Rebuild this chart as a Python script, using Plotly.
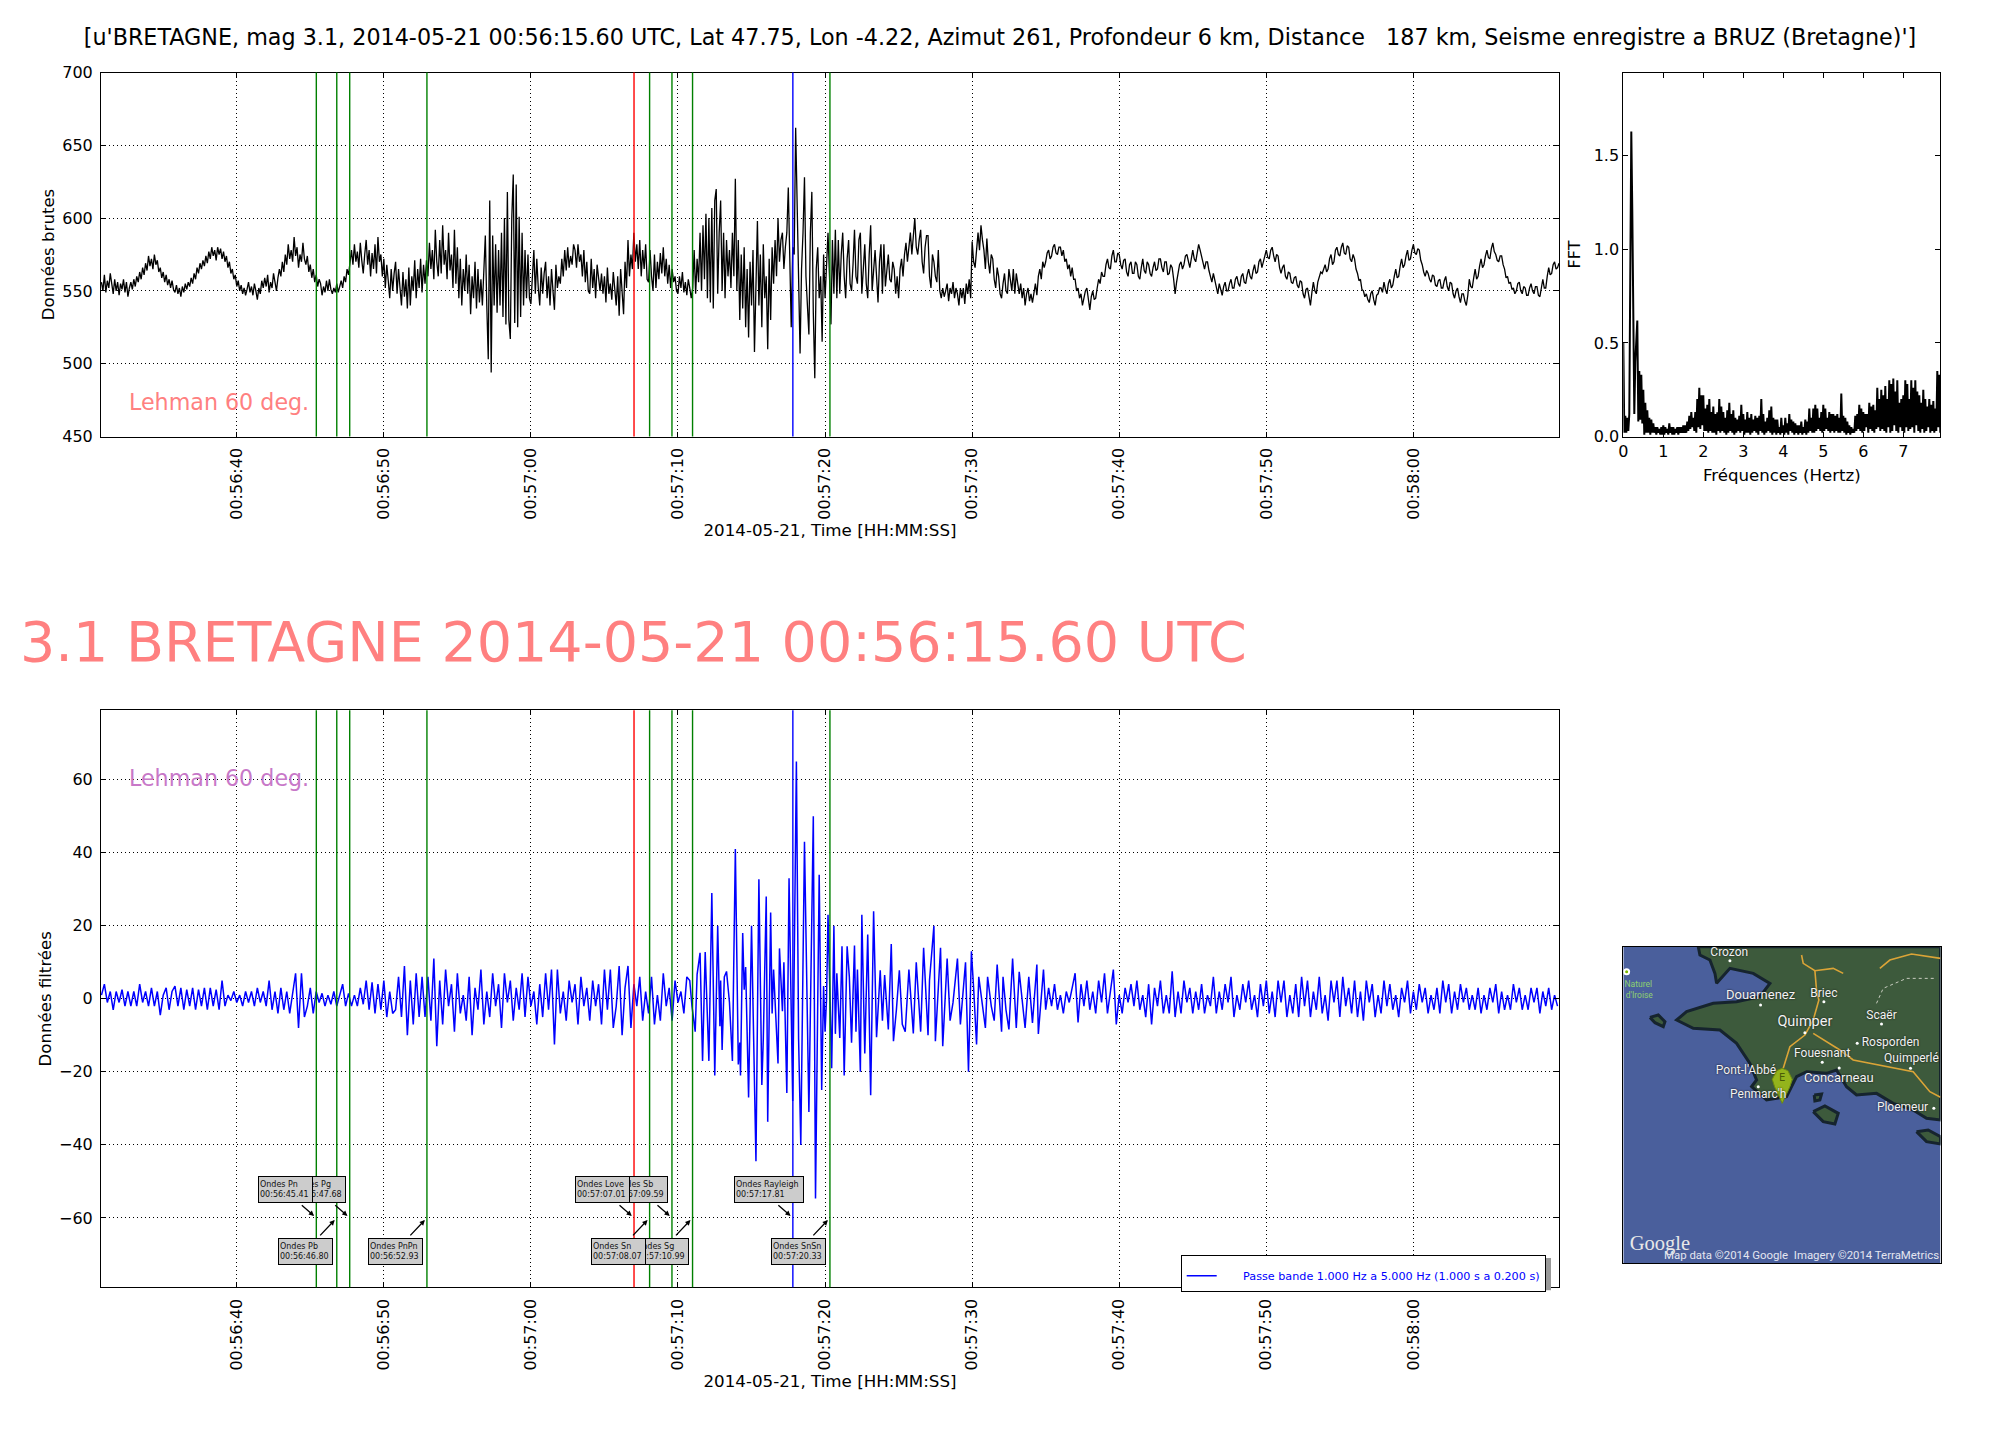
import numpy as np
import pandas as pd
import plotly.graph_objs as go

titre = "[u'BRETAGNE, mag 3.1, 2014-05-21 00:56:15.60 UTC, Lat 47.75, Lon -4.22, Azimut 261, Profondeur 6 km, Distance \u00a0 187 km, Seisme enregistre a BRUZ (Bretagne)']"
grand_titre = "3.1 BRETAGNE 2014-05-21 00:56:15.60 UTC"
jour = '2014-05-21'
time_ticks = ['00:56:40', '00:56:50', '00:57:00', '00:57:10', '00:57:20', '00:57:30', '00:57:40', '00:57:50', '00:58:00']

# ondes : nom, heure, couleur
onde_noms = ['Pn', 'Pb', 'Pg', 'PnPn', 'Love', 'Sn', 'Sb', 'Sg', 'Rayleigh', 'SnSn']
onde_heures = ['00:56:45.41', '00:56:46.80', '00:56:47.68', '00:56:52.93', '00:57:07.01',
               '00:57:08.07', '00:57:09.59', '00:57:10.99', '00:57:17.81', '00:57:20.33']
onde_couleurs = ['#008000', '#008000', '#008000', '#008000', '#ff0000',
                 '#008000', '#008000', '#008000', '#0000ff', '#008000']

# donnees brutes, une ligne par seconde (secondes apres 00:56:00)
raw_a = [556, 550, 561, 549, 557, 552, 562, 553, 548, 558,
         550, 556, 547, 555, 551, 558, 549, 556, 546, 552,
         556, 551, 558, 553, 560, 556, 563, 558, 566, 561,
         569, 564, 574, 567, 572, 565, 575, 568, 571, 563,
         566, 559, 563, 556, 561, 554, 558, 552, 557, 551,
         549, 554, 548, 552, 546, 553, 549, 555, 551, 556,
         553, 559, 555, 562, 558, 566, 562, 569, 565, 571,
         567, 574, 569, 577, 572, 580, 574, 578, 571, 580,
         575, 579, 572, 577, 570, 574, 566, 570, 562, 565,
         558, 561, 553, 557, 550, 554, 548, 552, 547, 551,
         556, 549, 553, 547, 555, 550, 544, 552, 548, 557,
         552, 559, 553, 561, 549, 556, 552, 562, 555, 550,
         559, 565, 560, 570, 563, 575, 568, 582, 572, 578,
         570, 587, 574, 580, 566, 575, 570, 583, 572, 568,
         574, 563, 568, 559, 565, 556, 561, 553, 558, 555,
         547, 553, 549, 557, 550, 558, 551, 548, 552, 549,
         555, 549, 553, 557, 552, 560, 556, 565, 561, 570,
         578, 568, 582, 570, 577, 566, 583, 571, 562, 575,
         585, 568, 578, 560, 576, 565, 582, 562, 587, 570,
         575, 560, 572, 552, 568, 557, 545, 565, 550, 562,
         570, 548, 565, 552, 540, 563, 546, 558, 538, 566,
         540, 560, 550, 571, 545, 565, 552, 572, 549, 568,
         555, 571, 560, 583, 565, 578, 558, 592, 570, 560,
         585, 562, 595, 568, 578, 558, 590, 564, 575, 552,
         592, 555, 580, 545, 572, 540, 565, 550, 575, 548,
         568, 534, 560, 545, 570, 538, 565, 542, 558, 540]
raw_b = [560, 588, 540, 503, 612, 494, 588, 540, 582, 535,
         578, 540, 590, 532, 600, 527, 618, 530, 517, 600,
         630, 528, 623, 525, 601, 532, 590, 540, 578, 545,
         575, 545]
raw_c = [541, 565, 578, 548, 572, 552, 540, 566, 548, 562,
         570, 545, 560, 540, 565, 550, 537, 568, 552, 560,
         555, 572, 560, 578, 564, 580, 566, 574, 568, 582,
         578, 566, 582, 570, 575, 560, 578, 556, 570, 550,
         548, 572, 552, 565, 545, 568, 556, 550, 562, 548,
         560, 542, 566, 548, 555, 544, 563, 552, 540, 560,
         533, 565, 548, 534, 570, 552, 585, 560, 575, 565,
         590, 570, 582, 565, 585, 560, 578, 565, 582, 558,
         556, 578, 560, 550, 575, 552, 570, 558, 576, 562,
         580, 560, 572, 555, 568, 552, 565, 556, 560, 550,
         548, 560, 552, 563, 549, 556, 547, 558, 552, 545]
raw_d = [552, 578, 548, 572, 556, 590, 550, 595, 558, 603,
         545, 600, 542, 607, 538, 612, 620, 548, 590, 612,
         550, 590, 545, 585, 560, 578, 552, 590, 560, 627,
         550, 585, 530, 575, 538, 580, 525, 565, 518, 570,
         540, 578, 508, 565, 598, 540, 575, 525, 582, 545,
         560, 510, 572, 530, 580, 555, 585, 560, 600, 570,
         585, 590, 565, 580, 590, 621, 560, 525, 580, 575,
         662, 600, 550, 507, 565, 590, 628, 560, 540, 520,
         590, 618, 535, 490, 565, 580, 545, 560, 515, 575,
         545, 570, 590, 560, 527, 585, 548, 592, 545, 585]
raw_e = [548, 575, 590, 560, 545, 572, 585, 555, 550, 568,
         592, 560, 555, 585, 590, 548, 565, 582, 555, 545,
         575, 595, 550, 565, 578, 560, 542, 570, 582, 548,
         582, 553, 565, 575, 558, 556, 570, 565, 548, 560,
         545, 565, 572, 560, 575, 583, 570, 578, 590, 575,
         590, 600, 580, 575, 585, 592, 570, 562, 580, 588,
         588, 560, 552, 575, 570, 560, 556, 578, 550, 545,
         552, 546, 550, 555, 543, 552, 548, 556, 545, 552,
         548, 540, 552, 545, 552, 541, 555, 548, 558, 545,
         584, 570, 566, 582, 590, 578, 595, 585, 578, 565,
         586, 570, 562, 575, 572, 558, 552, 566, 560, 548,
         545, 555, 562, 550, 548, 565, 555, 550, 565, 548,
         562, 555, 548, 555, 545, 552, 540, 548, 552, 543,
         548, 542, 550, 555, 547, 560, 565, 558, 570, 566,
         570, 576, 578, 572, 574, 580, 582, 576, 575, 580,
         580, 574, 578, 570, 572, 565, 568, 560, 566, 558,
         558, 550, 552, 545, 548, 540, 545, 550, 552, 543,
         537, 546, 550, 544, 545, 552, 558, 555, 563, 560,
         560, 568, 572, 566, 565, 574, 578, 570, 570, 576,
         575, 568, 565, 571, 572, 563, 560, 568, 570, 562,
         562, 570, 568, 560, 558, 566, 572, 564, 562, 570,
         568, 562, 560, 566, 570, 564, 565, 572, 572, 566,
         563, 570, 570, 561, 562, 568, 566, 558, 548, 556,
         562, 568, 570, 565, 568, 574, 575, 570, 566, 572,
         578, 572, 570, 576, 582, 578, 574, 568, 565, 570,
         570, 564, 560, 556, 562, 558, 552, 548, 555, 551,
         547, 553, 556, 550, 550, 555, 558, 552, 552, 558,
         560, 555, 553, 560, 562, 556, 555, 561, 565, 560,
         558, 564, 568, 562, 563, 570, 572, 566, 570, 575,
         578, 573, 572, 578, 580, 574, 570, 575, 574, 566,
         562, 566, 568, 560, 558, 563, 562, 556, 555, 559,
         560, 554, 552, 557, 556, 548, 545, 551, 552, 546,
         540, 549, 556, 550, 548, 556, 560, 563, 562, 566,
         568, 563, 565, 572, 575, 568, 570, 578, 580, 575,
         574, 580, 583, 576, 575, 581, 580, 572, 570, 575,
         572, 565, 562, 557, 558, 551, 550, 546, 548, 544,
         542, 548, 550, 544, 540, 547, 548, 552, 552, 549,
         556, 551, 548, 555, 558, 552, 554, 560, 565, 559,
         560, 567, 572, 566, 568, 574, 578, 571, 572, 578,
         582, 576, 575, 579, 578, 571, 568, 563, 560, 564,
         562, 558, 556, 561, 560, 554, 553, 557, 558, 552,
         552, 557, 560, 553, 550, 556, 555, 548, 545, 550,
         552, 546, 542, 548, 548, 543, 540, 547, 558, 553,
         552, 559, 565, 558, 560, 567, 572, 566, 568, 574,
         578, 573, 572, 579, 583, 577, 575, 571, 570, 574,
         574, 568, 565, 559, 560, 555, 556, 551, 552, 548,
         550, 555, 556, 550, 548, 553, 552, 547, 547, 552,
         555, 550, 548, 553, 553, 547, 546, 552, 558, 552,
         552, 560, 566, 561, 562, 568, 570, 565, 566, 569]

# donnees filtrees
filt_a = [1, 4, -1, 2, -3,
          2, -1, 2.5, -2, 2,
          -2, 2, -2, 4, -1,
          2, -2, 3, -2, 2,
          -4.5, 1, 3, -3, 2,
          3.5, -2, 3, -3, 2.5,
          -2, 3, -3, 2.5, -2,
          3, -3, 3, -2, 2.5,
          -3, 5, -2, 1, -0.5,
          2, -1, 1, -2, 2,
          -1, 2, -2, 3, -1,
          2, -2, 5, -3, 2,
          -4, 3, -3, 2, -4,
          2, 7, -8, 7, -5,
          -2, 3, -4, 2, -1,
          1.5, -2, 1, -1.5, 2,
          -2, 1, 4, -2, 1.5,
          -2, 1, -2, 3, -1.5,
          5, -3, 4.5, -4, 4,
          -3, 5, -5, 2, -4,
          -3, 6, -5, 9, -10,
          5, -7, 7, -5, 6,
          -5, 6, -6, 11, -13,
          5, -7, 8, -2, 4,
          -9, 7, -4, 1, -6,
          6, -10, 3, -3, 8,
          -7, 2, -5, 7, -2,
          4, -8, 7, -1, 5,
          -6, 3, -3, 7, -5,
          6, -2, 2, -7, 4,
          -5, 7, -3, 8, -12.5,
          8, -4, 2, -6, 5,
          -1, 4, -7, 6, -2,
          3, -6, 5, -2, 4,
          -7, 8, -3, 8, -8,
          -2, 9, -10, 3, 9,
          -8, 4, -2, 6, -6,
          2, -4, 6, -7, 1,
          -6, 7, -2, 3, -6,
          5, -1, 2, -4, 6]
filt_burst_t = [70.8, 70.95, 71.17, 71.3, 71.5, 71.67, 71.85, 72.1, 72.3, 72.5, 72.7, 72.85, 72.9, 73.0, 73.15,
                73.3, 73.4, 73.5, 73.7, 73.9, 74.1, 74.2, 74.25, 74.4, 74.5, 74.6, 74.8, 75.0, 75.3, 75.5,
                75.7, 75.8, 76.0, 76.1, 76.3, 76.4, 76.5, 76.8, 76.9, 77.1, 77.2, 77.4, 77.55, 77.8, 78.05,
                78.2, 78.35, 78.6, 78.9, 79.2, 79.35, 79.5, 79.6, 79.77, 79.9, 80.0, 80.1, 80.2, 80.45, 80.6,
                80.7, 80.8, 81.0, 81.15, 81.3, 81.5, 81.65, 81.8, 82.0, 82.1, 82.2, 82.4, 82.5, 82.7, 82.9,
                83.1, 83.3, 83.5, 83.75, 83.9, 84.05, 84.3, 84.5, 84.65, 84.85, 85.05, 85.25, 85.45, 85.7, 86.0,
                86.2, 86.5, 86.7, 87.0, 87.1, 87.4, 87.5, 87.85, 88.0, 88.3, 88.5, 88.7, 89.0, 89.2, 89.55,
                89.75, 89.95, 90.1, 90.3, 90.45, 90.7, 90.9, 91.05, 91.3, 91.5, 91.7, 92.0, 92.1, 92.3, 92.5,
                92.75, 93.0, 93.2, 93.6, 93.85, 94.1, 94.4, 94.5, 94.85, 95.0]
filt_burst = [5, -2, -9, 6.7, 12.6, -17, 12.8, -17, 29, -21, 20, -7.5, 5, -14, 6,
              7.5, 3, -1, -17, 41, -18, -12, -21, 18, 2.5, 8.7, -27, 20, -44.5, 32.7,
              -23.6, -11, 28, -33.7, 23.6, -4, 8, -17.7, 13.8, -3.4, 10, -25.8, 33, -28, 65,
              -11, -40, 43, -31, 50, -54.7, 11, 34, -25, 3.5, -9, 0, 23, -19, 20,
              -9.6, 7, -10.7, 14.4, -21, 14.4, 6, -12, 14.6, -9, 8, -20, 23, -15, 17.6,
              -26.4, 24, -10.5, 7.8, -6, 6.5, -8.4, 15, -11.6, -3, 7.8, -7, -9, 8, -9.5,
              10, -9, 14, -10, 5, 20, -11.6, 14, -13, 11, -6, -1, 11, -7, 10,
              -20, 13, 3, -12.5, 6, -2, -8, 6, -2, -6, 9.4, -9, 6, -3, -8.4,
              11, -8, 7.4, -8, 6, -6.6, 9.4, -9.6, 8, -3]
filt_c = [3, -2, 4, -3, 1,
          -4, 2, -1, 3, 7,
          -6.5, 4, -2, 5, -3,
          2, -4, 5, -1, 7,
          -4, 2, 8, -7, 1,
          -4, 3, -1, 4, -2,
          5, -3, 1, -5, 4,
          -7, 3, -2, 5, -4,
          1, -4, 7.5, -5, 2,
          -4, 5, -1, 3, -4,
          2, -3, 4, -4, 1,
          -2, 6, -4, 2, -3,
          4, -1, 6, -5, 1,
          -3, 4, -1, 5, -3,
          1, -5, 4, -2, 5,
          -4, 2, -5, 5, -1,
          5, -5, 1, -4, 4,
          -5, 6, -2, 5, -5,
          2, -3, 6, -4, 1,
          -6, 5, -1, 5, -5,
          6, -2, 3, -4, 5,
          -5, 2, -6, 5, -1,
          4, -5, 1, -4, 5,
          -2, 4, -3, 1, -5,
          3, -1, 5, -4, 2,
          -3, 4, -1, 3, -4,
          1, -3, 3, -4, 5,
          -1, 4, -4, 2, -3,
          4, -1, 3, -3, 1,
          -3, 3, -4, 1, -3,
          3, -1, 4, -4, 2,
          -3, 1, -3, 4, -1,
          3, -3, 1, -3, 3,
          -1, 3, -4, 2, -2,
          3, -3, 1, -2]

# spectre, 0.025 Hz entre deux valeurs
fft_pas = 0.025
fft_values = [.5, .02, .11, .02, .1, .03, .12, .68, 1.63, 1.2,
              .75, .12, .4, .52, .62, .08, .35, .09, .33, .07,
              .25, .01, .18, .02, .14, .02, .1, .01, .09, .02,
              .07, .02, .05, .01, .05, .02, .04, .01, .05, .01,
              .06, .01, .05, .02, .04, .01, .07, .02, .05, .01,
              .05, .01, .04, .02, .05, .01, .05, .02, .05, .02,
              .06, .02, .06, .02, .08, .03, .11, .04, .13, .05,
              .1, .03, .13, .02, .2, .05, .26, .04, .22, .06,
              .22, .03, .15, .03, .17, .02, .2, .03, .13, .02,
              .16, .02, .12, .01, .13, .03, .2, .02, .16, .03,
              .13, .02, .1, .01, .14, .02, .18, .03, .12, .02,
              .14, .01, .1, .02, .09, .03, .11, .02, .17, .03,
              .12, .01, .09, .02, .13, .02, .1, .01, .12, .02,
              .09, .03, .11, .02, .1, .01, .11, .03, .2, .02,
              .12, .01, .08, .02, .1, .03, .14, .02, .16, .01,
              .1, .02, .09, .01, .09, .02, .05, .01, .1, .02,
              .06, .01, .1, .02, .07, .01, .12, .03, .09, .02,
              .08, .01, .07, .02, .06, .01, .06, .02, .08, .01,
              .05, .02, .09, .01, .08, .02, .15, .03, .1, .02,
              .15, .02, .17, .03, .15, .04, .1, .03, .13, .02,
              .17, .03, .15, .04, .1, .03, .13, .02, .12, .03,
              .12, .02, .11, .03, .12, .02, .1, .02, .23, .03,
              .11, .02, .1, .01, .08, .02, .06, .01, .05, .02,
              .04, .02, .11, .03, .12, .04, .17, .03, .15, .02,
              .13, .03, .12, .05, .12, .02, .18, .04, .16, .03,
              .17, .02, .14, .04, .26, .05, .2, .03, .25, .04,
              .22, .03, .27, .02, .2, .05, .3, .02, .28, .03,
              .31, .06, .24, .03, .3, .02, .18, .05, .2, .03,
              .22, .02, .3, .05, .28, .03, .2, .04, .3, .05,
              .26, .02, .3, .06, .24, .03, .22, .02, .18, .04,
              .25, .02, .2, .03, .16, .05, .2, .02, .17, .03,
              .19, .02, .15, .03, .35, .05, .33, .02]

# carte, en pixels de la vignette
terre_x = [235, 240, 270, 285, 290, 330, 400, 450, 420, 350, 280, 200, 170, 220, 300, 350, 390, 410, 395, 440, 500,
           530, 560, 620, 650, 680, 710, 770, 820, 880, 920, 962, 962, 235]
terre_y = [20, 45, 60, 100, 130, 85, 100, 130, 170, 185, 190, 215, 240, 265, 270, 310, 370, 420, 440, 480, 470,
           410, 395, 400, 390, 440, 465, 460, 490, 510, 535, 540, 20, 20]
ile1_x = [90, 115, 135, 130, 105, 90]
ile1_y = [232, 225, 245, 260, 248, 232]
ile2_x = [580, 615, 655, 645, 610, 580]
ile2_y = [515, 498, 520, 552, 545, 515]
ile3_x = [890, 925, 962, 962, 920, 890]
ile3_y = [575, 570, 590, 612, 605, 575]
ile4_x = [583, 605, 600, 585, 583]
ile4_y = [465, 462, 480, 483, 465]
route1_x = [545, 550, 585, 640, 670]
route1_y = [45, 70, 92, 85, 100]
route2_x = [585, 590, 597, 580, 555, 510, 490]
route2_y = [92, 150, 180, 240, 285, 320, 385]
route3_x = [580, 660, 700, 780, 880, 930, 962]
route3_y = [280, 330, 360, 375, 395, 455, 472]
route4_x = [780, 810, 875, 962]
route4_y = [85, 60, 42, 55]
piste_x = [770, 790, 860, 950]
piste_y = [190, 145, 115, 115]
villes = ['Crozon', 'Douarnenez', 'Briec', 'Quimper', 'Scaër', 'Rosporden', 'Fouesnant', 'Quimperlé', 'Concarneau',
          "Pont-l'Abbé", "Penmarc'h", 'Ploemeur']
villes_x = [328, 422, 612, 555, 785, 812, 607, 875, 657, 378, 415, 848]
villes_y = [38, 168, 161, 248, 228, 310, 343, 358, 416, 393, 465, 505]
villes_taille = [12, 13, 12, 14.5, 12, 12, 12, 12, 13, 12, 12, 12]
points_x = [330, 422, 612, 555, 785, 712, 607, 658, 415, 872, 942]
points_y = [62, 195, 185, 278, 252, 310, 367, 384, 440, 385, 505]
pin_x = [457, 470, 487, 504, 517, 510, 487, 464, 457]
pin_y = [418, 392, 385, 392, 418, 440, 490, 440, 418]


def stamps(debut, pas, n):
    base = pd.Timestamp(jour + ' 00:56:00')
    t = base + pd.to_timedelta(debut + pas * np.arange(n), unit='s')
    return list(t.strftime('%Y-%m-%d %H:%M:%S.%f'))


def stamps_liste(secondes):
    base = pd.Timestamp(jour + ' 00:56:00')
    t = base + pd.to_timedelta(np.array(secondes), unit='s')
    return list(t.strftime('%Y-%m-%d %H:%M:%S.%f'))


raw_t = (stamps(30.8, 0.1, len(raw_a)) + stamps(56.8, 0.1, len(raw_b)) + stamps(60, 0.1, len(raw_c))
         + stamps(71, 0.1, len(raw_d)) + stamps(81, 0.1, len(raw_e)))
raw_y = raw_a + raw_b + raw_c + raw_d + raw_e
filt_t = stamps(30.8, 0.2, len(filt_a)) + stamps_liste(filt_burst_t) + stamps(95.2, 0.2, len(filt_c))
filt_y = filt_a + filt_burst + filt_c
fft_x = list(np.arange(len(fft_values)) * fft_pas)

W, H = 2000, 1430
police = 'DejaVu Sans'
pointilles = '1px,3px'
nom_filtre = '\u00a0' * 6 + 'Passe bande 1.000 Hz a 5.000 Hz (1.000 s a 0.200 s)'

data = [
    go.Scatter(x=raw_t, y=raw_y, mode='lines', line=dict(color='black', width=1.3), xaxis='x', yaxis='y',
               showlegend=False, hoverinfo='skip'),
    go.Scatter(x=filt_t, y=filt_y, mode='lines', line=dict(color='#0000ff', width=1.5), xaxis='x2', yaxis='y2',
               name=nom_filtre, showlegend=True, hoverinfo='skip'),
    go.Scatter(x=fft_x, y=fft_values, mode='lines', line=dict(color='black', width=2), xaxis='x3', yaxis='y3',
               showlegend=False, hoverinfo='skip'),
]

# vignette de la carte
carte = dict(xaxis='x4', yaxis='y4', showlegend=False, hoverinfo='skip')
for ix, iy in [(terre_x, terre_y), (ile1_x, ile1_y), (ile2_x, ile2_y), (ile3_x, ile3_y), (ile4_x, ile4_y)]:
    data.append(go.Scatter(x=ix, y=iy, mode='lines', fill='toself', fillcolor='#3d5a3c',
                           line=dict(color='#16242e', width=3), **carte))
for ix, iy in [(route1_x, route1_y), (route2_x, route2_y), (route3_x, route3_y), (route4_x, route4_y)]:
    data.append(go.Scatter(x=ix, y=iy, mode='lines', line=dict(color='#dba437', width=1.6), **carte))
data.append(go.Scatter(x=piste_x, y=piste_y, mode='lines', line=dict(color='#c9cdc0', width=1, dash='3px,3px'), **carte))
data.append(go.Scatter(x=points_x, y=points_y, mode='markers', marker=dict(color='white', size=3), **carte))
data.append(go.Scatter(x=[20], y=[95], mode='markers',
                       marker=dict(color='#7ab800', size=5, line=dict(color='white', width=2)), **carte))
data.append(go.Scatter(x=pin_x, y=pin_y, mode='lines', fill='toself', fillcolor='#94b41c',
                       line=dict(color='#6d8a10', width=1), **carte))
data.append(go.Scatter(x=villes_x, y=villes_y, mode='text', text=villes,
                       textfont=dict(family='Roboto', size=villes_taille, color='#f2f2f2', shadow='0px 0px 2px #111'),
                       **carte))
data.append(go.Scatter(x=[487], y=[415], mode='text', text=['E'],
                       textfont=dict(family=police, size=10, color='#4a5c08'), **carte))
data.append(go.Scatter(x=[55, 58], y=[135, 167], mode='text', text=['Naturel', "d'Iroise"],
                       textfont=dict(family='Roboto', size=8.5, color='#8fd070'), **carte))
data.append(go.Scatter(x=[120], y=[915], mode='text', text=['Google'],
                       textfont=dict(family='Liberation Serif', size=20.5, color='#e8e8e8'), **carte))
data.append(go.Scatter(x=[545], y=[950], mode='text', text=['Map data ©2014 Google  Imagery ©2014 TerraMetrics'],
                       textfont=dict(family='Roboto', size=11.4, color='#e4e6f0'), **carte))


def axe_temps(domaine_y, ancre):
    return dict(domain=[101 / W, 1559 / W], anchor=ancre, type='date',
                range=[jour + ' 00:56:30.77', jour + ' 00:58:09.9'],
                tickvals=[jour + ' ' + t for t in time_ticks], tickformat='%H:%M:%S', tickangle=-90,
                ticks='inside', ticklen=5, tickcolor='black', ticklabelstandoff=4,
                showline=True, linecolor='black', linewidth=1, mirror='ticks',
                showgrid=True, gridcolor='black', gridwidth=0.6, griddash=pointilles, zeroline=False,
                title=dict(text=jour + ', Time [HH:MM:SS]', font=dict(size=16.7), standoff=5))


def axe_val(domaine, ancre, titre_y, **kw):
    return dict(domain=domaine, anchor=ancre, ticks='inside', ticklen=5, tickcolor='black', ticklabelstandoff=4,
                showline=True, linecolor='black', linewidth=1, mirror='ticks',
                showgrid=True, gridcolor='black', gridwidth=0.6, griddash=pointilles, zeroline=False,
                title=dict(text=titre_y, font=dict(size=16.6), standoff=3), **kw)


dom_haut = [1 - 436.5 / H, 1 - 72.5 / H]
dom_bas = [1 - 1287.3 / H, 1 - 710.3 / H]

shapes = []
for ax_x in ['x', 'x2']:
    ax_y = 'y domain' if ax_x == 'x' else 'y2 domain'
    for heure, couleur in zip(onde_heures, onde_couleurs):
        shapes.append(dict(type='line', xref=ax_x, yref=ax_y, x0=jour + ' ' + heure, x1=jour + ' ' + heure,
                           y0=0, y1=1, line=dict(color=couleur, width=1.4)))
# ombre de la legende
shapes.append(dict(type='rect', xref='paper', yref='paper', x0=1184 / W, x1=1551 / W,
                   y0=1 - 1290.3 / H, y1=1 - 1258 / H, fillcolor='#999999', line=dict(width=0)))

annotations = [
    dict(text=grand_titre, xref='paper', yref='paper', x=18 / W, y=1 - 641 / H, xanchor='left', yanchor='middle',
         showarrow=False, font=dict(size=55.5, color='#ff8080')),
    dict(text='Lehman 60 deg.', xref='paper', yref='paper', x=127 / W, y=1 - 402 / H, xanchor='left', yanchor='middle',
         showarrow=False, font=dict(size=22.2, color='#ff8080')),
    dict(text='Lehman 60 deg.', xref='paper', yref='paper', x=127 / W, y=1 - 778 / H, xanchor='left', yanchor='middle',
         showarrow=False, font=dict(size=22.2, color='#c878c8')),
]
# etiquettes : de la derniere a la premiere pour garder Pn, Love, Sn devant
for i in range(len(onde_noms) - 1, -1, -1):
    x_onde = jour + ' ' + onde_heures[i]
    haut = i % 2 == 0
    annotations.append(dict(text='', x=x_onde, y=-60, xref='x2', yref='y2', showarrow=True,
                            ax=-16 if haut else -18, ay=-14 if haut else 19, arrowhead=2, arrowsize=0.8,
                            arrowwidth=1.3, arrowcolor='black', standoff=3))
    annotations.append(dict(text='Ondes ' + onde_noms[i] + '<br>' + onde_heures[i], x=x_onde, y=-60, xref='x2', yref='y2',
                            showarrow=False, xshift=-58.6, yshift=28.5 if haut else -34,
                            width=66 if onde_noms[i] == 'Rayleigh' else 51, height=23,
                            align='left', xanchor='left', yanchor='middle', font=dict(size=8, color='#111111'),
                            bgcolor='#cccccc', bordercolor='black', borderwidth=1, borderpad=1))

layout = go.Layout(
    width=W, height=H, margin=dict(l=0, r=0, t=0, b=0, autoexpand=False), paper_bgcolor='white', plot_bgcolor='white',
    font=dict(family=police, size=16, color='black'),
    title=dict(text=titre, x=0.5, xanchor='center', y=1 - 37 / H, yanchor='middle', font=dict(size=22.25)),
    showlegend=True,
    legend=dict(x=1180.7 / W, y=1 - 1255 / H, xanchor='left', yanchor='top', bgcolor='white', bordercolor='black',
                borderwidth=1, font=dict(size=11.2, color='#0000ff'), itemwidth=30, entrywidth=378,
                entrywidthmode='pixels', title=dict(text='\u00a0', font=dict(size=4))),
    xaxis=axe_temps(dom_haut, 'y'),
    yaxis=axe_val(dom_haut, 'x', 'Données brutes', range=[450, 700], dtick=50),
    xaxis2=axe_temps(dom_bas, 'y2'),
    yaxis2=axe_val(dom_bas, 'x2', 'Données filtrées', range=[-79, 79], dtick=20),
    xaxis3=dict(domain=[1623.3 / W, 1940.3 / W], anchor='y3', range=[0, 7.925], dtick=1, ticks='inside', ticklen=5,
                tickcolor='black', showline=True, linecolor='black', linewidth=1, mirror='ticks', showgrid=False,
                zeroline=False, title=dict(text='Fréquences (Hertz)', font=dict(size=16.6), standoff=9)),
    yaxis3=dict(domain=dom_haut, anchor='x3', range=[0, 1.945], dtick=0.5, tickformat='.1f', ticks='inside', ticklen=5,
                tickcolor='black', showline=True, linecolor='black', linewidth=1, mirror='ticks', showgrid=False,
                zeroline=False, title=dict(text='FFT', font=dict(size=16), standoff=9)),
    xaxis4=dict(domain=[1623.3 / W, 1940.5 / W], anchor='y4', range=[10, 962], showticklabels=False, ticks='',
                showgrid=False, zeroline=False, showline=True, linecolor='black', linewidth=1, mirror=True),
    yaxis4=dict(domain=[1 - 1263.3 / H, 1 - 946.7 / H], anchor='x4', range=[970, 20], showticklabels=False, ticks='',
                showgrid=False, zeroline=False, showline=True, linecolor='black', linewidth=1, mirror=True),
    shapes=shapes,
    annotations=annotations,
)

fig = go.Figure(data=data, layout=layout)
# fond bleu de la carte
fig.add_shape(type='rect', xref='x4', yref='y4', x0=10, x1=962, y0=20, y1=970, fillcolor='#4a5f9c',
              line=dict(width=0), layer='below')
fig.write_html("out.html", config=dict(displayModeBar=False), post_script="document.body.style.margin='0';")
